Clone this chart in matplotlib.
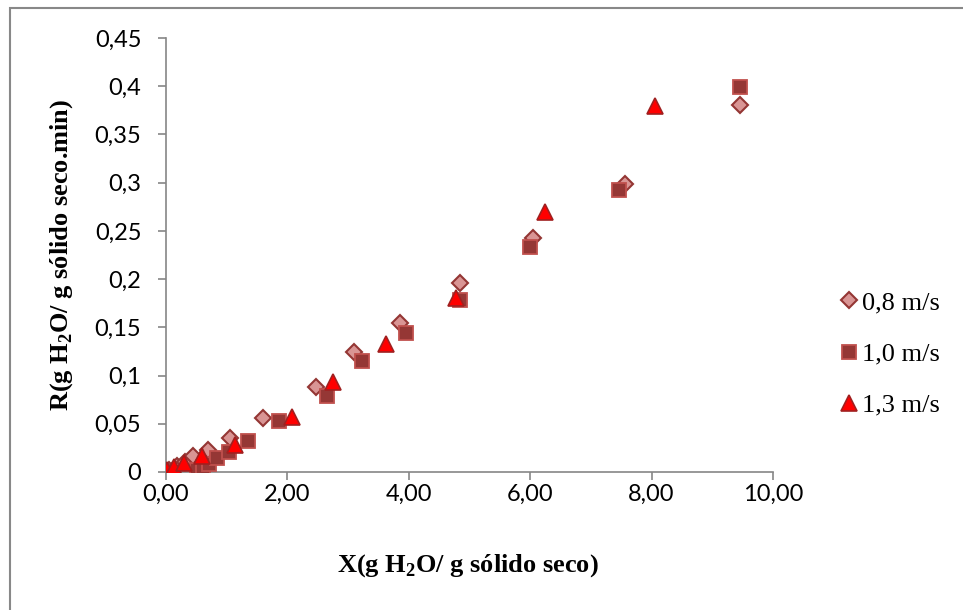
import matplotlib.pyplot as plt
from matplotlib.patches import Rectangle

# 0,8 m/s
x_08 = [0.05, 0.18, 0.31, 0.45, 0.70, 1.05, 1.60, 2.47, 3.10, 3.86, 4.84, 6.05, 7.56, 9.46]
r_08 = [0.002, 0.006, 0.010, 0.017, 0.023, 0.035, 0.056, 0.088, 0.124, 0.154, 0.196, 0.243, 0.299, 0.381]
# 1,0 m/s
x_10 = [0.51, 0.61, 0.71, 0.84, 1.03, 1.35, 1.86, 2.65, 3.23, 3.95, 4.84, 6.00, 7.46, 9.46]
r_10 = [0.002, 0.005, 0.008, 0.015, 0.021, 0.032, 0.053, 0.079, 0.115, 0.144, 0.178, 0.233, 0.292, 0.399]
# 1,3 m/s
x_13 = [0.02, 0.13, 0.29, 0.59, 1.14, 2.08, 2.75, 3.62, 4.78, 6.24, 8.06]
r_13 = [0.002, 0.005, 0.009, 0.017, 0.028, 0.057, 0.093, 0.133, 0.180, 0.270, 0.379]

labels = ["0,8 m/s", "1,0 m/s", "1,3 m/s"]
x_ticks = [0, 2, 4, 6, 8, 10]
y_ticks = [0, 0.05, 0.1, 0.15, 0.2, 0.25, 0.3, 0.35, 0.4, 0.45]

plt.rcParams['mathtext.fontset'] = 'custom'
plt.rcParams['mathtext.rm'] = 'Liberation Serif:bold'
plt.rcParams['mathtext.bf'] = 'Liberation Serif:bold'

W, H = 963, 610
fig = plt.figure(figsize=(W / 100, H / 100), dpi=100)
ax = fig.add_axes([166 / W, 1 - 472 / H, (773 - 166) / W, (472 - 38) / H])

ax.plot(x_08, r_08, 'D', ms=8, mfc='#D99594', mec='#943634', mew=1.5, label=labels[0], zorder=3)
ax.plot(x_10, r_10, 's', ms=10.5, mfc='#953735', mec='#C0504D', mew=1.3, label=labels[1], zorder=4)
ax.plot(x_13, r_13, '^', ms=11, mfc='#FF0000', mec='#A02020', mew=1.2, label=labels[2], zorder=5)

ax.set_xlim(0, 10)
ax.set_ylim(0, 0.45)
ax.set_xticks(x_ticks)
ax.set_xticklabels([f"{v:.2f}".replace('.', ',') for v in x_ticks])
ax.set_yticks(y_ticks)
ax.set_yticklabels(['0' if v == 0 else f"{v:g}".replace('.', ',') for v in y_ticks])

for s in ['top', 'right']:
    ax.spines[s].set_visible(False)
for s in ['left', 'bottom']:
    ax.spines[s].set_color('#868686')
    ax.spines[s].set_linewidth(1.2)
ax.tick_params(axis='both', colors='#868686', length=5.8, width=1.2, labelcolor='black',
               labelsize=17)
for lab in ax.get_xticklabels() + ax.get_yticklabels():
    lab.set_family('Lato')
ax.tick_params(axis='x', pad=3)
ax.tick_params(axis='y', pad=12)

fig.text(468 / W, 1 - 566 / H, r"X(g H$_\mathbf{2}$O/ g sólido seco)", family='Liberation Serif',
         weight='bold', fontsize=19, ha='center', va='center')
fig.text(62 / W, 1 - 255 / H, r"R(g H$_\mathbf{2}$O/ g sólido seco.min)", family='Liberation Serif',
         weight='bold', fontsize=19, ha='center', va='center', rotation=90)

fig.legend(loc='center left', bbox_to_anchor=(824 / W, 1 - 354 / H), frameon=False,
           prop={'family': 'Liberation Serif', 'size': 19}, handletextpad=0.05,
           labelspacing=1.05, handlelength=0.9, borderpad=0)

fig.patches.append(Rectangle((10 / W, -0.1), 1.2, 1 - 8 / H + 0.1, transform=fig.transFigure,
                             fill=False, ec='#888888', lw=1.5))

fig.savefig('out.png', dpi=100)
